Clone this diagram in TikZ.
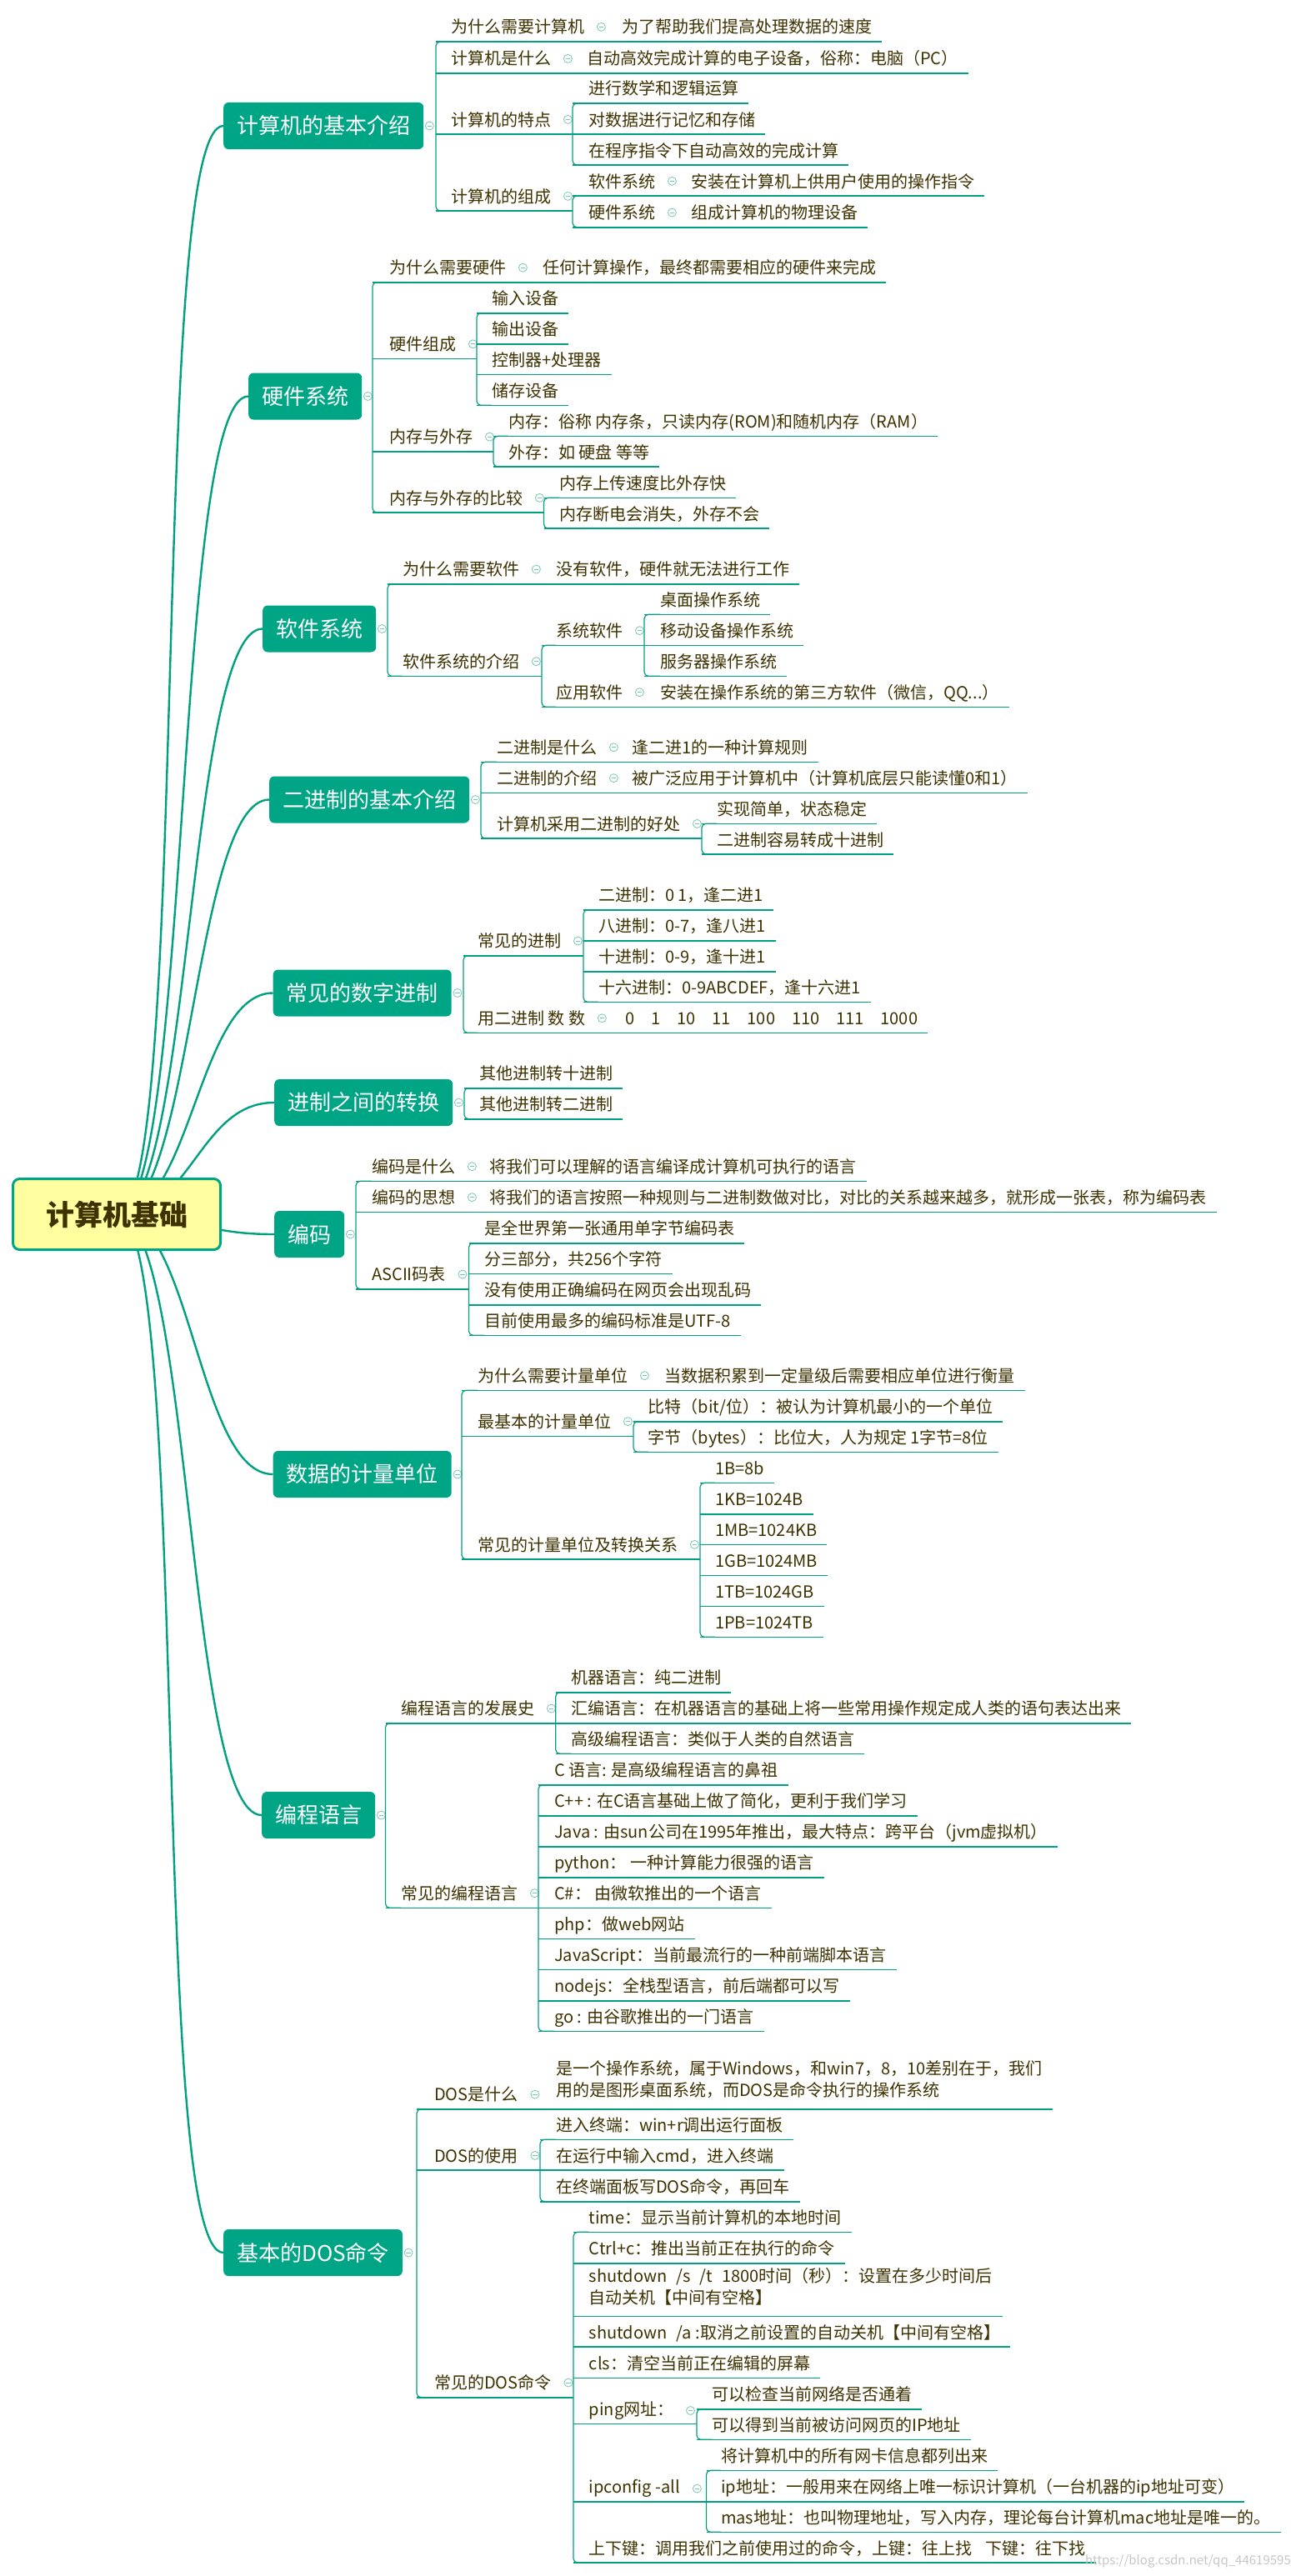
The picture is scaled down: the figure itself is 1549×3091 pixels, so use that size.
\documentclass[tikz,border=0pt]{standalone}
\usepackage{fontspec}
\setmainfont{Noto Sans CJK SC}
\usepackage{xcolor}
\usepackage{tikz}
\usetikzlibrary{calc}

\definecolor{mmteal}{RGB}{0,165,133}
\definecolor{mmline}{RGB}{0,160,128}
\definecolor{mmink}{RGB}{62,50,0}
\definecolor{mmroot}{RGB}{255,255,160}
\definecolor{mmfold}{RGB}{120,200,182}

\begin{document}
\begin{tikzpicture}[x=1pt, y=-1pt,
  topic/.style={fill=mmteal, rounded corners=6pt, anchor=west, text=white, inner xsep=16pt, minimum height=56pt, font=\fontsize{26}{30}\selectfont},
  root/.style={fill=mmroot, draw=mmteal, line width=3pt, rounded corners=8pt, minimum width=249pt, minimum height=85pt, text=mmink, font=\fontsize{34}{40}\selectfont\bfseries},
  item/.style={anchor=base west, inner sep=0pt, text=mmink, font=\fontsize{20}{26.7}\selectfont},
  twoline/.style={item, anchor=south west, align=left},
  uline/.style={draw=mmline, line width=1.6pt},
  bline/.style={draw=mmline, line width=1.2pt, rounded corners=5pt},
  conn/.style={draw=mmline, line width=2.4pt},
  fold/.style={circle, draw=mmfold, fill=white, line width=0.8pt, minimum size=10pt, inner sep=0pt,
    path picture={\draw[mmfold, line width=0.8pt] ([xshift=-2.6pt]path picture bounding box.center) -- ([xshift=2.6pt]path picture bounding box.center);}},
  wmark/.style={anchor=base east, inner sep=0pt, text=black!22, font=\fontsize{15}{18}\selectfont}
]
\fill[white] (0,0) rectangle (1549,3091);
\useasboundingbox (0,0) rectangle (1549,3091);

% ---- 计算机的基本介绍
\node[topic] (intro) at (268,151) {计算机的基本介绍};
\node[fold] at ($(intro.east)+(7,0)$) {};
\draw[bline] (541,50) -- (523,50) -- (523,253) -- (541,253);
\node[item] (intro-why) at (541,40) {为什么需要计算机};
\node[fold] at ($(intro-why.east)+(20,0)$) {};
\node[item] (intro-whyv) at (746,40) {为了帮助我们提高处理数据的速度};
\draw[uline] (523,50) -- ($(intro-whyv.base east)+(12,10)$);
\node[item] (intro-what) at (541,78) {计算机是什么};
\node[fold] at ($(intro-what.east)+(20,0)$) {};
\node[item] (intro-whatv) at (704,78) {自动高效完成计算的电子设备，俗称：电脑（PC）};
\draw[uline] (523,88) -- ($(intro-whatv.base east)+(12,10)$);
\node[item] (intro-feat) at (541,151) {计算机的特点};
\node[fold] at ($(intro-feat.east)+(20,0)$) {};
\draw[uline] (523,161) -- (687,161);
\draw[bline] (705,124) -- (687,124) -- (687,198) -- (705,198);
\node[item] (feat1) at (706,114) {进行数学和逻辑运算};
\draw[uline] (687,124) -- ($(feat1.base east)+(12,10)$);
\node[item] (feat2) at (706,151) {对数据进行记忆和存储};
\draw[uline] (687,161) -- ($(feat2.base east)+(12,10)$);
\node[item] (feat3) at (706,188) {在程序指令下自动高效的完成计算};
\draw[uline] (687,198) -- ($(feat3.base east)+(12,10)$);
\node[item] (intro-comp) at (541,243) {计算机的组成};
\node[fold] at ($(intro-comp.east)+(20,0)$) {};
\draw[uline] (523,253) -- (687,253);
\draw[bline] (705,235) -- (687,235) -- (687,272.7) -- (705,272.7);
\node[item] (comp-sw) at (706,225) {软件系统};
\node[fold] at ($(comp-sw.east)+(20,0)$) {};
\node[item] (comp-swv) at (829,225) {安装在计算机上供用户使用的操作指令};
\draw[uline] (687,235) -- ($(comp-swv.base east)+(12,10)$);
\node[item] (comp-hw) at (706,262.7) {硬件系统};
\node[fold] at ($(comp-hw.east)+(20,0)$) {};
\node[item] (comp-hwv) at (829,262.7) {组成计算机的物理设备};
\draw[uline] (687,272.7) -- ($(comp-hwv.base east)+(12,10)$);

% ---- 硬件系统
\node[topic] (hw) at (298,475.5) {硬件系统};
\node[fold] at ($(hw.east)+(7,0)$) {};
\draw[bline] (465,338.7) -- (447,338.7) -- (447,615) -- (465,615);
\node[item] (hw-why) at (467,328.7) {为什么需要硬件};
\node[fold] at ($(hw-why.east)+(20,0)$) {};
\node[item] (hw-whyv) at (651,328.7) {任何计算操作，最终都需要相应的硬件来完成};
\draw[uline] (447,338.7) -- ($(hw-whyv.base east)+(12,10)$);
\node[item] (hw-part) at (467,420.3) {硬件组成};
\node[fold] at ($(hw-part.east)+(20,0)$) {};
\draw[uline] (447,430.3) -- (572,430.3);
\draw[bline] (590,375.7) -- (572,375.7) -- (572,486.3) -- (590,486.3);
\node[item] (part1) at (590,365.7) {输入设备};
\draw[uline] (572,375.7) -- ($(part1.base east)+(12,10)$);
\node[item] (part2) at (590,402.7) {输出设备};
\draw[uline] (572,412.7) -- ($(part2.base east)+(12,10)$);
\node[item] (part3) at (590,439.3) {控制器+处理器};
\draw[uline] (572,449.3) -- ($(part3.base east)+(12,10)$);
\node[item] (part4) at (590,476.3) {储存设备};
\draw[uline] (572,486.3) -- ($(part4.base east)+(12,10)$);
\node[item] (hw-mem) at (467,531.7) {内存与外存};
\node[fold] at ($(hw-mem.east)+(20,0)$) {};
\draw[uline] (447,541.7) -- (592,541.7);
\draw[bline] (610,523.3) -- (592,523.3) -- (592,560) -- (610,560);
\node[item] (mem1) at (610,513.3) {内存：俗称 内存条，只读内存(ROM)和随机内存（RAM）};
\draw[uline] (592,523.3) -- ($(mem1.base east)+(12,10)$);
\node[item] (mem2) at (610,550) {外存：如 硬盘 等等};
\draw[uline] (592,560) -- ($(mem2.base east)+(12,10)$);
\node[item] (hw-cmp) at (467,605) {内存与外存的比较};
\node[fold] at ($(hw-cmp.east)+(20,0)$) {};
\draw[uline] (447,615) -- (652.5,615);
\draw[bline] (671,597.3) -- (652.5,597.3) -- (652.5,634) -- (671,634);
\node[item] (cmp1) at (671,587.3) {内存上传速度比外存快};
\draw[uline] (652.5,597.3) -- ($(cmp1.base east)+(12,10)$);
\node[item] (cmp2) at (671,624) {内存断电会消失，外存不会};
\draw[uline] (652.5,634) -- ($(cmp2.base east)+(12,10)$);

% ---- 软件系统
\node[topic] (sw) at (315,754.5) {软件系统};
\node[fold] at ($(sw.east)+(7,0)$) {};
\draw[bline] (483,700.7) -- (465,700.7) -- (465,811.3) -- (483,811.3);
\node[item] (sw-why) at (483,690.7) {为什么需要软件};
\node[fold] at ($(sw-why.east)+(20,0)$) {};
\node[item] (sw-whyv) at (667,690.7) {没有软件，硬件就无法进行工作};
\draw[uline] (465,700.7) -- ($(sw-whyv.base east)+(12,10)$);
\node[item] (sw-intro) at (483,801.3) {软件系统的介绍};
\node[fold] at ($(sw-intro.east)+(20,0)$) {};
\draw[uline] (465,811.3) -- (650,811.3);
\draw[bline] (667,774.3) -- (650,774.3) -- (650,848.3) -- (667,848.3);
\node[item] (sys) at (667,764.3) {系统软件};
\node[fold] at ($(sys.east)+(20,0)$) {};
\draw[uline] (650,774.3) -- (773,774.3);
\draw[bline] (792,737.3) -- (773,737.3) -- (773,811.3) -- (792,811.3);
\node[item] (os1) at (792,727.3) {桌面操作系统};
\draw[uline] (773,737.3) -- ($(os1.base east)+(12,10)$);
\node[item] (os2) at (792,764.3) {移动设备操作系统};
\draw[uline] (773,774.3) -- ($(os2.base east)+(12,10)$);
\node[item] (os3) at (792,801.3) {服务器操作系统};
\draw[uline] (773,811.3) -- ($(os3.base east)+(12,10)$);
\node[item] (app) at (667,838.3) {应用软件};
\node[fold] at ($(app.east)+(20,0)$) {};
\node[item] (appv) at (792,838.3) {安装在操作系统的第三方软件（微信，QQ...）};
\draw[uline] (650,848.3) -- ($(appv.base east)+(12,10)$);

% ---- 二进制的基本介绍
\node[topic] (bin) at (323,959.5) {二进制的基本介绍};
\node[fold] at ($(bin.east)+(7,0)$) {};
\draw[bline] (596,914.3) -- (577,914.3) -- (577,1006) -- (596,1006);
\node[item] (bin-what) at (596,904.3) {二进制是什么};
\node[fold] at ($(bin-what.east)+(20,0)$) {};
\node[item] (bin-whatv) at (758,904.3) {逢二进1的一种计算规则};
\draw[uline] (577,914.3) -- ($(bin-whatv.base east)+(12,10)$);
\node[item] (bin-use) at (596,941.3) {二进制的介绍};
\node[fold] at ($(bin-use.east)+(20,0)$) {};
\node[item] (bin-usev) at (758,941.3) {被广泛应用于计算机中（计算机底层只能读懂0和1）};
\draw[uline] (577,951.3) -- ($(bin-usev.base east)+(12,10)$);
\node[item] (bin-good) at (596,996) {计算机采用二进制的好处};
\node[fold] at ($(bin-good.east)+(20,0)$) {};
\draw[uline] (577,1006) -- (842,1006);
\draw[bline] (860,988.3) -- (842,988.3) -- (842,1025) -- (860,1025);
\node[item] (good1) at (860,978.3) {实现简单，状态稳定};
\draw[uline] (842,988.3) -- ($(good1.base east)+(12,10)$);
\node[item] (good2) at (860,1015) {二进制容易转成十进制};
\draw[uline] (842,1025) -- ($(good2.base east)+(12,10)$);

% ---- 常见的数字进制
\node[topic] (base) at (327.5,1191.5) {常见的数字进制};
\node[fold] at ($(base.east)+(7,0)$) {};
\draw[bline] (573,1146.7) -- (556,1146.7) -- (556,1239.3) -- (573,1239.3);
\node[item] (base-list) at (573,1136.7) {常见的进制};
\node[fold] at ($(base-list.east)+(20,0)$) {};
\draw[uline] (556,1146.7) -- (700,1146.7);
\draw[bline] (718,1091.7) -- (700,1091.7) -- (700,1202.3) -- (718,1202.3);
\node[item] (b2) at (718,1081.7) {二进制：0 1，逢二进1};
\draw[uline] (700,1091.7) -- ($(b2.base east)+(12,10)$);
\node[item] (b8) at (718,1118.7) {八进制：0-7，逢八进1};
\draw[uline] (700,1128.7) -- ($(b8.base east)+(12,10)$);
\node[item] (b10) at (718,1155.7) {十进制：0-9，逢十进1};
\draw[uline] (700,1165.7) -- ($(b10.base east)+(12,10)$);
\node[item] (b16) at (718,1192.3) {十六进制：0-9ABCDEF，逢十六进1};
\draw[uline] (700,1202.3) -- ($(b16.base east)+(12,10)$);
\node[item] (base-count) at (573,1229.3) {用二进制 数 数};
\node[fold] at ($(base-count.east)+(20,0)$) {};
\node[item] (base-countv) at (750,1229.3) {0\hspace{20pt}1\hspace{20pt}10\hspace{20pt}11\hspace{20pt}100\hspace{20pt}110\hspace{20pt}111\hspace{20pt}1000};
\draw[uline] (556,1239.3) -- ($(base-countv.base east)+(12,10)$);

% ---- 进制之间的转换
\node[topic] (conv) at (329,1323) {进制之间的转换};
\node[fold] at ($(conv.east)+(7,0)$) {};
\draw[bline] (575,1305.7) -- (557,1305.7) -- (557,1342.7) -- (575,1342.7);
\node[item] (conv1) at (575,1295.7) {其他进制转十进制};
\draw[uline] (557,1305.7) -- ($(conv1.base east)+(12,10)$);
\node[item] (conv2) at (575,1332.7) {其他进制转二进制};
\draw[uline] (557,1342.7) -- ($(conv2.base east)+(12,10)$);

% ---- 编码
\node[topic] (code) at (329,1481) {编码};
\node[fold] at ($(code.east)+(7,0)$) {};
\draw[bline] (446,1417.3) -- (427,1417.3) -- (427,1546.7) -- (446,1546.7);
\node[item] (code-what) at (446,1407.3) {编码是什么};
\node[fold] at ($(code-what.east)+(20,0)$) {};
\node[item] (code-whatv) at (587.5,1407.3) {将我们可以理解的语言编译成计算机可执行的语言};
\draw[uline] (427,1417.3) -- ($(code-whatv.base east)+(12,10)$);
\node[item] (code-idea) at (446,1444.3) {编码的思想};
\node[fold] at ($(code-idea.east)+(20,0)$) {};
\node[item] (code-ideav) at (587.5,1444.3) {将我们的语言按照一种规则与二进制数做对比，对比的关系越来越多，就形成一张表，称为编码表};
\draw[uline] (427,1454.3) -- ($(code-ideav.base east)+(12,10)$);
\node[item] (code-ascii) at (446,1536.7) {ASCII码表};
\node[fold] at ($(code-ascii.east)+(20,0)$) {};
\draw[uline] (427,1546.7) -- (562.5,1546.7);
\draw[bline] (581,1491.7) -- (562.5,1491.7) -- (562.5,1602.3) -- (581,1602.3);
\node[item] (ascii1) at (581,1481.7) {是全世界第一张通用单字节编码表};
\draw[uline] (562.5,1491.7) -- ($(ascii1.base east)+(12,10)$);
\node[item] (ascii2) at (581,1518.3) {分三部分，共256个字符};
\draw[uline] (562.5,1528.3) -- ($(ascii2.base east)+(12,10)$);
\node[item] (ascii3) at (581,1555.7) {没有使用正确编码在网页会出现乱码};
\draw[uline] (562.5,1565.7) -- ($(ascii3.base east)+(12,10)$);
\node[item] (ascii4) at (581,1592.3) {目前使用最多的编码标准是UTF-8};
\draw[uline] (562.5,1602.3) -- ($(ascii4.base east)+(12,10)$);

% ---- 数据的计量单位
\node[topic] (unit) at (327.5,1769) {数据的计量单位};
\node[fold] at ($(unit.east)+(7,0)$) {};
\draw[bline] (573,1668.3) -- (554,1668.3) -- (554,1871) -- (573,1871);
\node[item] (unit-why) at (573,1658.3) {为什么需要计量单位};
\node[fold] at ($(unit-why.east)+(20,0)$) {};
\node[item] (unit-whyv) at (797.5,1658.3) {当数据积累到一定量级后需要相应单位进行衡量};
\draw[uline] (554,1668.3) -- ($(unit-whyv.base east)+(12,10)$);
\node[item] (unit-basic) at (573,1713.3) {最基本的计量单位};
\node[fold] at ($(unit-basic.east)+(20,0)$) {};
\draw[uline] (554,1723.3) -- (760,1723.3);
\draw[bline] (777.5,1705.7) -- (760,1705.7) -- (760,1742.3) -- (777.5,1742.3);
\node[item] (bit) at (777.5,1695.7) {比特（bit/位）：被认为计算机最小的一个单位};
\draw[uline] (760,1705.7) -- ($(bit.base east)+(12,10)$);
\node[item] (byte) at (777.5,1732.3) {字节（bytes）：比位大，人为规定 1字节=8位};
\draw[uline] (760,1742.3) -- ($(byte.base east)+(12,10)$);
\node[item] (unit-conv) at (573,1861) {常见的计量单位及转换关系};
\node[fold] at ($(unit-conv.east)+(20,0)$) {};
\draw[uline] (554,1871) -- (840,1871);
\draw[bline] (858,1779.3) -- (840,1779.3) -- (840,1964.3) -- (858,1964.3);
\node[item] (u1) at (858,1769.3) {1B=8b};
\draw[uline] (840,1779.3) -- ($(u1.base east)+(12,10)$);
\node[item] (u2) at (858,1806.7) {1KB=1024B};
\draw[uline] (840,1816.7) -- ($(u2.base east)+(12,10)$);
\node[item] (u3) at (858,1843.3) {1MB=1024KB};
\draw[uline] (840,1853.3) -- ($(u3.base east)+(12,10)$);
\node[item] (u4) at (858,1880.3) {1GB=1024MB};
\draw[uline] (840,1890.3) -- ($(u4.base east)+(12,10)$);
\node[item] (u5) at (858,1917.3) {1TB=1024GB};
\draw[uline] (840,1927.3) -- ($(u5.base east)+(12,10)$);
\node[item] (u6) at (858,1954.3) {1PB=1024TB};
\draw[uline] (840,1964.3) -- ($(u6.base east)+(12,10)$);

% ---- 编程语言
\node[topic] (lang) at (314,2178) {编程语言};
\node[fold] at ($(lang.east)+(7,0)$) {};
\draw[bline] (481,2067.7) -- (462.5,2067.7) -- (462.5,2289.3) -- (481,2289.3);
\node[item] (lang-hist) at (481,2057.7) {编程语言的发展史};
\node[fold] at ($(lang-hist.east)+(20,0)$) {};
\draw[uline] (462.5,2067.7) -- (666.7,2067.7);
\draw[bline] (685,2030.7) -- (666.7,2030.7) -- (666.7,2104.3) -- (685,2104.3);
\node[item] (hist1) at (685,2020.7) {机器语言：纯二进制};
\draw[uline] (666.7,2030.7) -- ($(hist1.base east)+(12,10)$);
\node[item] (hist2) at (685,2057.7) {汇编语言：在机器语言的基础上将一些常用操作规定成人类的语句表达出来};
\draw[uline] (666.7,2067.7) -- ($(hist2.base east)+(12,10)$);
\node[item] (hist3) at (685,2094.3) {高级编程语言：类似于人类的自然语言};
\draw[uline] (666.7,2104.3) -- ($(hist3.base east)+(12,10)$);
\node[item] (lang-list) at (481,2279.3) {常见的编程语言};
\node[fold] at ($(lang-list.east)+(20,0)$) {};
\draw[uline] (462.5,2289.3) -- (646,2289.3);
\draw[bline] (665,2141.7) -- (646,2141.7) -- (646,2437.3) -- (665,2437.3);
\node[item] (pl1) at (665,2131.7) {C 语言: 是高级编程语言的鼻祖};
\draw[uline] (646,2141.7) -- ($(pl1.base east)+(12,10)$);
\node[item] (pl2) at (665,2168.7) {C++ : 在C语言基础上做了简化，更利于我们学习};
\draw[uline] (646,2178.7) -- ($(pl2.base east)+(12,10)$);
\node[item] (pl3) at (665,2205.7) {Java : 由sun公司在1995年推出，最大特点：跨平台（jvm虚拟机）};
\draw[uline] (646,2215.7) -- ($(pl3.base east)+(12,10)$);
\node[item] (pl4) at (665,2242.7) {python： 一种计算能力很强的语言};
\draw[uline] (646,2252.7) -- ($(pl4.base east)+(12,10)$);
\node[item] (pl5) at (665,2279.3) {C\#： 由微软推出的一个语言};
\draw[uline] (646,2289.3) -- ($(pl5.base east)+(12,10)$);
\node[item] (pl6) at (665,2316.3) {php：做web网站};
\draw[uline] (646,2326.3) -- ($(pl6.base east)+(12,10)$);
\node[item] (pl7) at (665,2353.3) {JavaScript：当前最流行的一种前端脚本语言};
\draw[uline] (646,2363.3) -- ($(pl7.base east)+(12,10)$);
\node[item] (pl8) at (665,2390.7) {nodejs：全栈型语言，前后端都可以写};
\draw[uline] (646,2400.7) -- ($(pl8.base east)+(12,10)$);
\node[item] (pl9) at (665,2427.3) {go : 由谷歌推出的一门语言};
\draw[uline] (646,2437.3) -- ($(pl9.base east)+(12,10)$);

% ---- 基本的DOS命令
\node[topic] (dos) at (268,2703) {基本的DOS命令};
\node[fold] at ($(dos.east)+(7,0)$) {};
\draw[bline] (521,2530.7) -- (500,2530.7) -- (500,2876.7) -- (521,2876.7);
\node[item] (dos-what) at (521,2520.7) {DOS是什么};
\node[fold] at ($(dos-what.east)+(20,0)$) {};
\node[twoline] (dos-whatv) at (667,2518.2) {是一个操作系统，属于Windows，和win7，8，10差别在于，我们\\用的是图形桌面系统，而DOS是命令执行的操作系统};
\path (dos-whatv.east) ++(12,0) coordinate (dos-whatend);
\draw[uline] (500,2530.7) -- (dos-whatend |- 0,2530.7);
\node[item] (dos-use) at (521,2594) {DOS的使用};
\node[fold] at ($(dos-use.east)+(20,0)$) {};
\draw[uline] (500,2604) -- (648,2604);
\draw[bline] (667,2567.3) -- (648,2567.3) -- (648,2641.7) -- (667,2641.7);
\node[item] (use1) at (667,2557.3) {进入终端：win+r调出运行面板};
\draw[uline] (648,2567.3) -- ($(use1.base east)+(12,10)$);
\node[item] (use2) at (667,2594) {在运行中输入cmd，进入终端};
\draw[uline] (648,2604) -- ($(use2.base east)+(12,10)$);
\node[item] (use3) at (667,2631.7) {在终端面板写DOS命令，再回车};
\draw[uline] (648,2641.7) -- ($(use3.base east)+(12,10)$);
\node[item] (dos-cmd) at (521,2866.7) {常见的DOS命令};
\node[fold] at ($(dos-cmd.east)+(20,0)$) {};
\draw[uline] (500,2876.7) -- (688,2876.7);
\draw[bline] (706.7,2678.3) -- (688,2678.3) -- (688,3075) -- (706.7,3075);
\node[item] (cmd1) at (706.7,2668.3) {time：显示当前计算机的本地时间};
\draw[uline] (688,2678.3) -- ($(cmd1.base east)+(12,10)$);
\node[item] (cmd2) at (706.7,2705.7) {Ctrl+c：推出当前正在执行的命令};
\draw[uline] (688,2715.7) -- ($(cmd2.base east)+(12,10)$);
\node[twoline] (cmd3) at (706.7,2766.8) {shutdown\hspace{11pt}/s\hspace{11pt}/t\hspace{11pt}1800时间（秒）：设置在多少时间后\\自动关机【中间有空格】};
\path (cmd3.east) ++(12,0) coordinate (cmd3end);
\draw[uline] (688,2779.3) -- (cmd3end |- 0,2779.3);
\node[item] (cmd4) at (706.7,2806) {shutdown\hspace{11pt}/a :取消之前设置的自动关机【中间有空格】};
\draw[uline] (688,2816) -- ($(cmd4.base east)+(12,10)$);
\node[item] (cmd5) at (706.7,2843.3) {cls：清空当前正在编辑的屏幕};
\draw[uline] (688,2853.3) -- ($(cmd5.base east)+(12,10)$);
\node[item] (cmd6) at (706.7,2898.3) {ping网址：};
\node[fold] at ($(cmd6.east)+(20,0)$) {};
\draw[uline] (688,2908.3) -- (836,2908.3);
\draw[bline] (854,2890.7) -- (836,2890.7) -- (836,2927.3) -- (854,2927.3);
\node[item] (ping1) at (854,2880.7) {可以检查当前网络是否通着};
\draw[uline] (836,2890.7) -- ($(ping1.base east)+(12,10)$);
\node[item] (ping2) at (854,2917.3) {可以得到当前被访问网页的IP地址};
\draw[uline] (836,2927.3) -- ($(ping2.base east)+(12,10)$);
\node[item] (cmd7) at (706.7,2991.7) {ipconfig -all};
\node[fold] at ($(cmd7.east)+(20,0)$) {};
\draw[uline] (688,3001.7) -- (847.5,3001.7);
\draw[bline] (865,2964.3) -- (847.5,2964.3) -- (847.5,3038.3) -- (865,3038.3);
\node[item] (ipc1) at (865,2954.3) {将计算机中的所有网卡信息都列出来};
\draw[uline] (847.5,2964.3) -- ($(ipc1.base east)+(12,10)$);
\node[item] (ipc2) at (865,2991.7) {ip地址：一般用来在网络上唯一标识计算机（一台机器的ip地址可变）};
\draw[uline] (847.5,3001.7) -- ($(ipc2.base east)+(12,10)$);
\node[item] (ipc3) at (865,3028.3) {mas地址：也叫物理地址，写入内存，理论每台计算机mac地址是唯一的。};
\draw[uline] (847.5,3038.3) -- ($(ipc3.base east)+(12,10)$);
\node[item] (cmd8) at (706.7,3065) {上下键：调用我们之前使用过的命令，上键：往上找\hspace{16pt}下键：往下找};
\draw[uline] (688,3075) -- ($(cmd8.base east)+(12,10)$);

% root and its curves
\coordinate (rootc) at (140,1457);
\foreach \t in {intro,hw,sw,bin,base,conv,code,unit,lang,dos}
  \draw[conn] (rootc) .. controls +(90,0) and +(-90,0) .. (\t.west);
\node[root] (root) at (rootc) {计算机基础};

\node[wmark] (wm) at (1549,3077) {https://blog.csdn.net/qq\_44619595};
\end{tikzpicture}
\end{document}
